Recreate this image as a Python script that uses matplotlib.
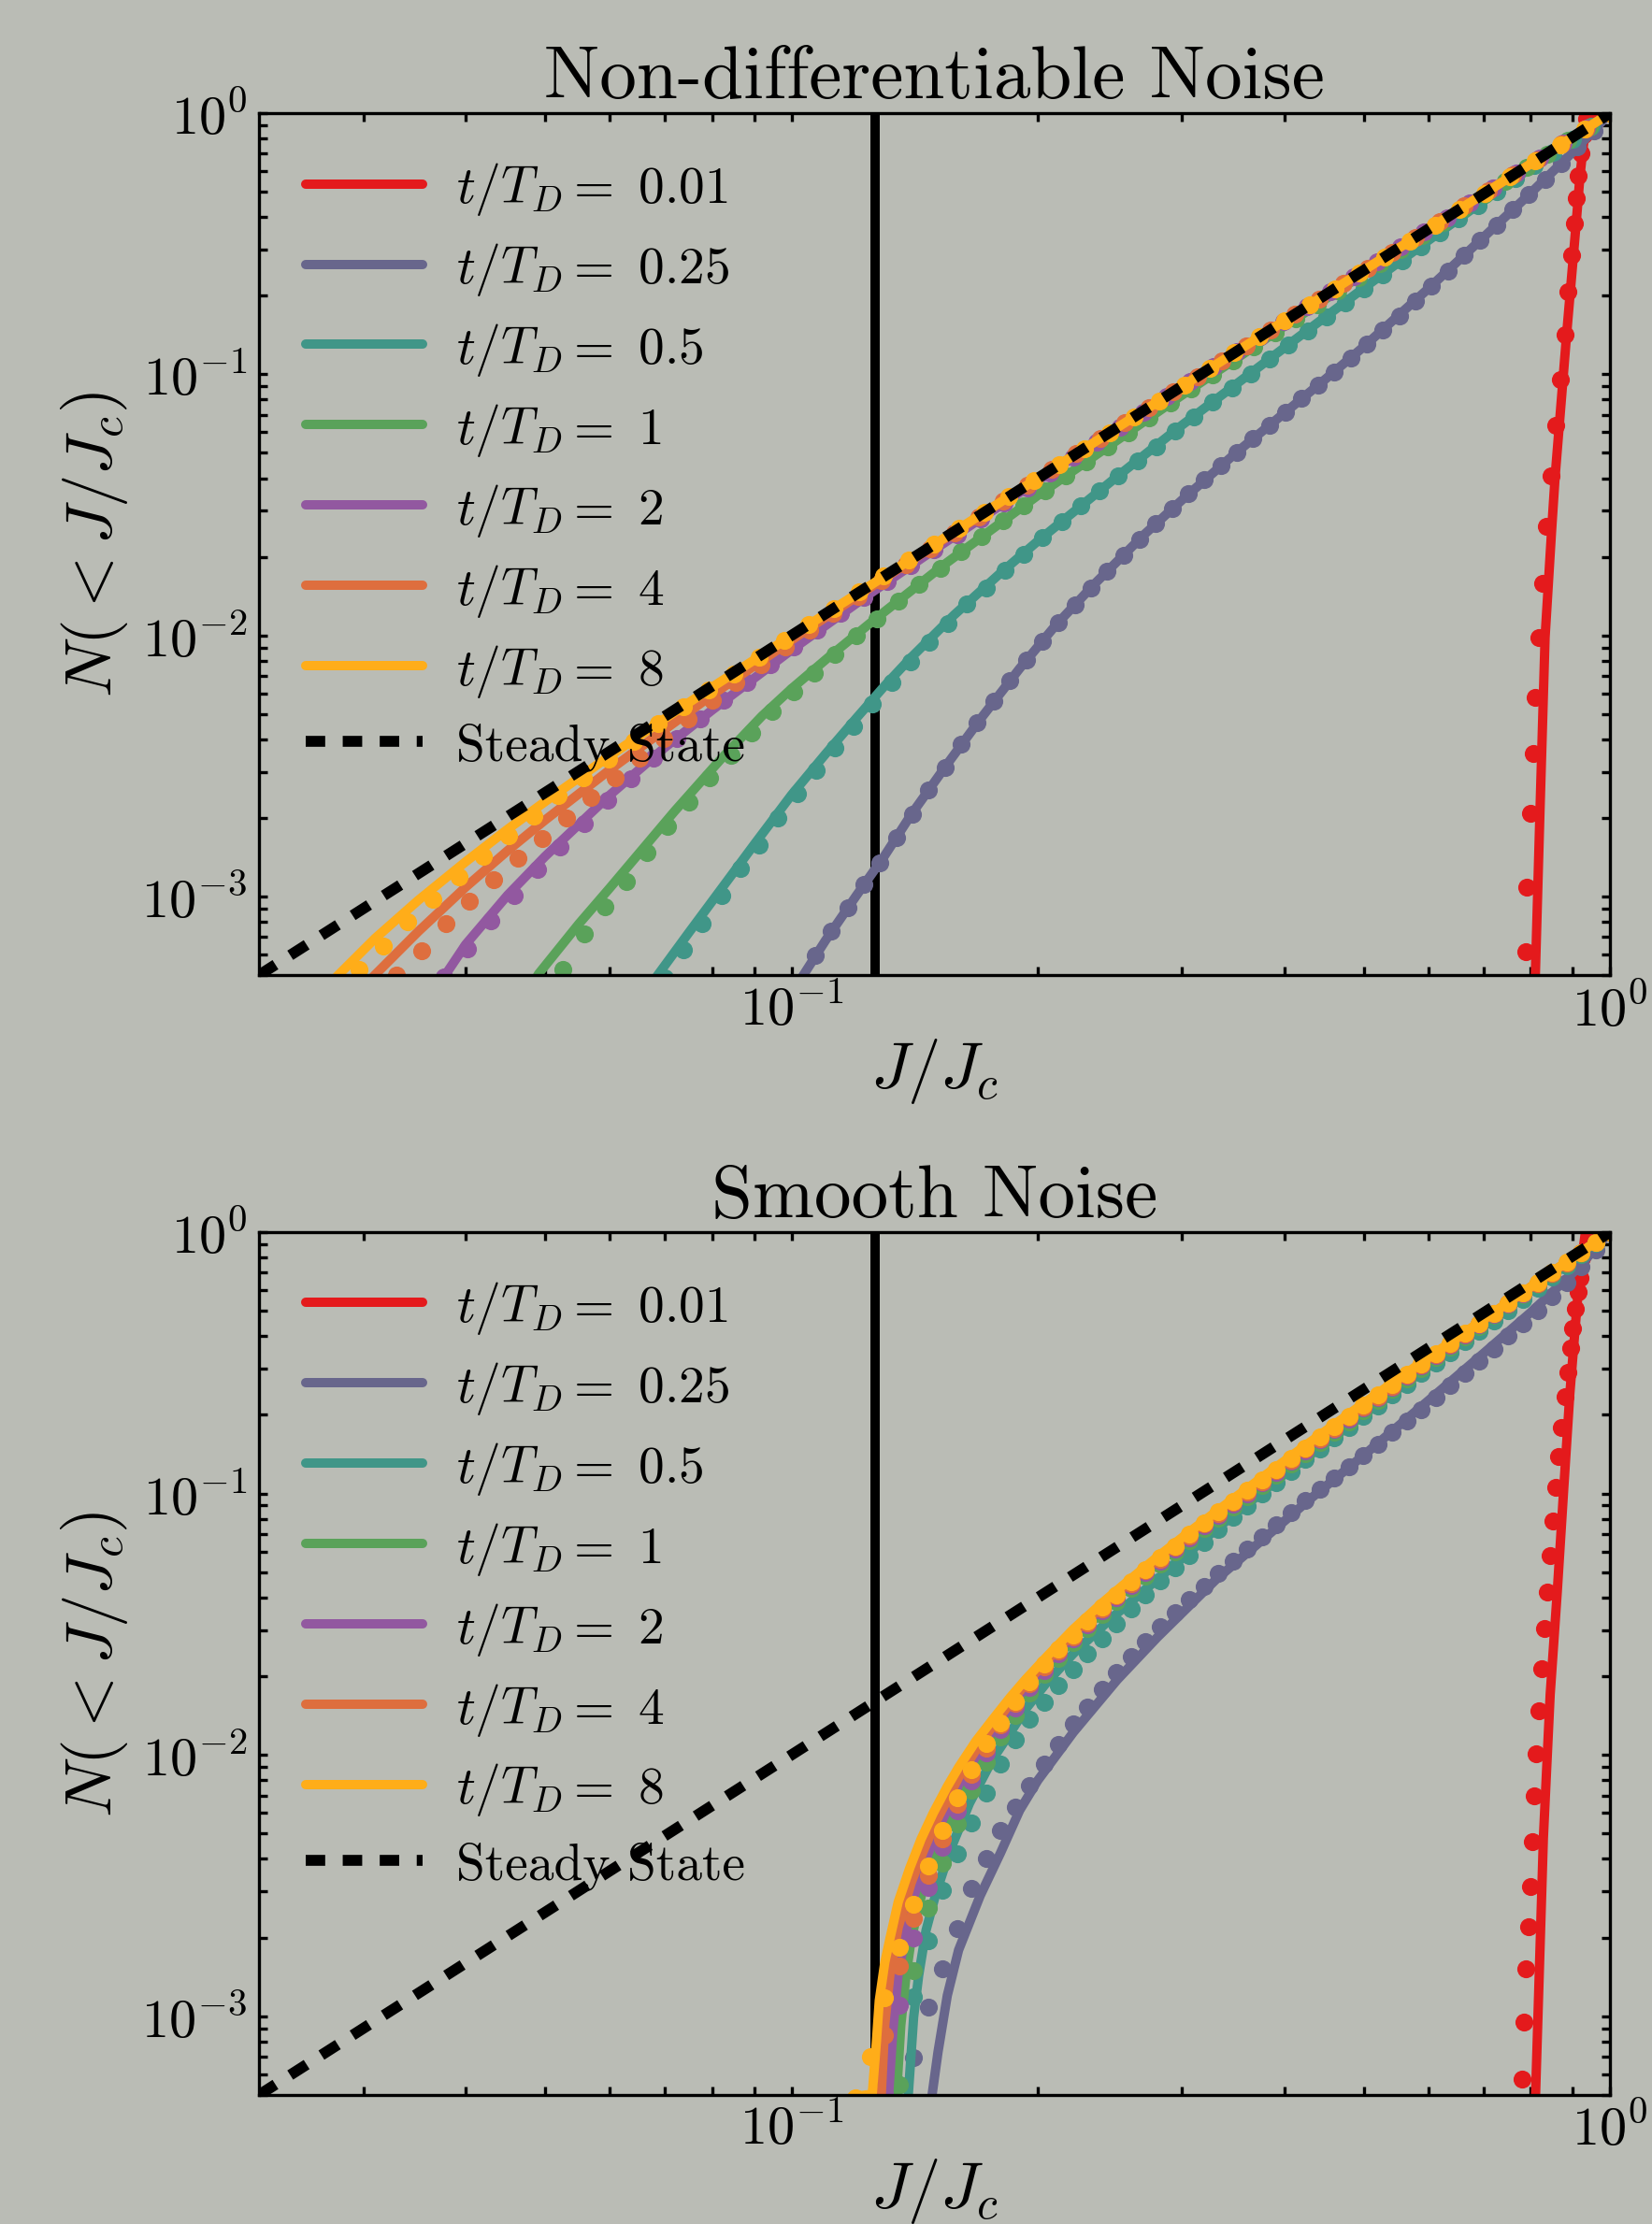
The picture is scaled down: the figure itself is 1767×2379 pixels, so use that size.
import matplotlib
matplotlib.use('Agg')
import matplotlib.pyplot as plt

plt.rcParams['font.family'] = ['cmr10', 'DejaVu Serif']
plt.rcParams['mathtext.fontset'] = 'cm'
plt.rcParams['axes.formatter.use_mathtext'] = True
plt.rcParams['axes.unicode_minus'] = False
plt.rcParams['lines.scale_dashes'] = False

BG = '#babcb5'

times = ['0.01', '0.25', '0.5', '1', '2', '4', '8']
colors = ['#e41a1c', '#68668c', '#409688', '#5aa25a', '#9258a0', '#de6e3e', '#ffad19']

j_lc = 0.1265
x_range = (0.02236, 1.0)
y_range = (5e-4, 1.0)
steady_x = [0.02236, 1.0]
steady_y = [5e-4, 1.0]

# ---------------- top panel: non-differentiable noise ----------------
# theory curves
rough_red_x = [0.806, 0.812, 0.821, 0.833, 0.849, 0.857, 0.876, 0.885, 0.909, 0.919, 0.927, 0.940, 1.0]
rough_red_y = [2.7e-4, 6.14e-4, 2.09e-3, 9.83e-3, 0.0261, 0.0408, 0.0955, 0.142, 0.377, 0.577, 0.74, 1.0, 1.0]
rough_slate_x = [0.099, 0.102, 0.11, 0.12, 0.13, 0.14, 0.155, 0.17, 0.19, 0.21, 0.235, 0.27, 0.3, 0.35,
                 0.4, 0.45, 0.5, 0.6, 0.7, 0.8, 0.9, 1.0]
rough_slate_y = [4.02e-4, 4.68e-4, 6.78e-4, 1.008e-3, 1.437e-3, 2.058e-3, 3.219e-3, 4.769e-3, 7.473e-3,
                 0.01089, 0.01585, 0.02442, 0.03303, 0.05035, 0.07104, 0.09639, 0.1275, 0.2131, 0.3342,
                 0.4947, 0.7088, 1.0]
rough_teal_x = [0.066, 0.0686, 0.075, 0.08, 0.09, 0.1, 0.11, 0.12, 0.13, 0.14, 0.158, 0.18, 0.2, 0.25,
                0.3, 0.4, 0.5, 0.6, 0.7, 0.8, 0.9, 1.0]
rough_teal_y = [4.14e-4, 4.99e-4, 7.31e-4, 9.6e-4, 1.58e-3, 2.45e-3, 3.51e-3, 4.82e-3, 6.42e-3, 8.23e-3,
                0.01198, 0.01733, 0.023, 0.04063, 0.0639, 0.1264, 0.2138, 0.3258, 0.4606, 0.6176,
                0.7979, 1.0]
rough_green_x = [0.047, 0.0491, 0.055, 0.06, 0.072, 0.082, 0.092, 0.1, 0.111, 0.126, 0.153, 0.2, 0.3,
                 0.4, 0.5, 0.7, 1.0]
rough_green_y = [3.98e-4, 5.06e-4, 7.87e-4, 1.08e-3, 2.125e-3, 3.362e-3, 4.909e-3, 6.25e-3, 8.255e-3,
                 0.01143, 0.01849, 0.0344, 0.08325, 0.1528, 0.2425, 0.4851, 1.0]
rough_purple_x = [0.036, 0.0377, 0.04, 0.045, 0.05, 0.06, 0.07, 0.08, 0.1, 0.125, 0.15, 0.2, 0.3, 0.5, 1.0]
rough_purple_y = [4.02e-4, 4.97e-4, 6.56e-4, 1.013e-3, 1.425e-3, 2.45e-3, 3.72e-3, 5.18e-3, 8.8e-3,
                  0.01453, 0.02149, 0.0392, 0.08937, 0.25, 1.0]
rough_orange_x = [0.029, 0.0309, 0.035, 0.04, 0.045, 0.05, 0.06, 0.07, 0.08, 0.1, 0.125, 0.15, 0.2, 0.3, 1.0]
rough_orange_y = [3.78e-4, 4.97e-4, 7.35e-4, 1.088e-3, 1.499e-3, 1.963e-3, 3.06e-3, 4.36e-3, 5.92e-3,
                  9.6e-3, 0.01531, 0.02228, 0.03988, 0.09, 1.0]
rough_yellow_x = [0.0265, 0.0279, 0.031, 0.035, 0.04, 0.045, 0.05, 0.06, 0.07, 0.08, 0.1, 0.15, 0.3, 0.6, 1.0]
rough_yellow_y = [4.07e-4, 4.98e-4, 6.92e-4, 9.68e-4, 1.36e-3, 1.81e-3, 2.31e-3, 3.46e-3, 4.80e-3,
                  6.34e-3, 9.97e-3, 0.0225, 0.09, 0.36, 1.0]

# simulation points
rough_red_dx = [0.921, 0.915, 0.909, 0.904, 0.897, 0.889, 0.880, 0.870, 0.859, 0.848, 0.836, 0.827,
                0.818, 0.811, 0.805, 0.800, 0.792, 0.790, 0.928, 0.936]
rough_red_dy = [0.705, 0.577, 0.472, 0.377, 0.286, 0.207, 0.142, 0.0955, 0.064, 0.0408, 0.0261, 0.0158,
                9.83e-3, 5.81e-3, 3.53e-3, 2.09e-3, 1.09e-3, 6.14e-4, 0.83, 0.95]
rough_slate_dx = [1, .9554, .9128, .8721, .8332, .7960, .7605, .7266, .6942, .6632, .6336, .6053, .5783,
                  .5525, .5279, .5044, .4819, .4604, .4399, .4202, .4015, .3836, .3665, .3501, .3345,
                  .3196, .3053, .2917, .2787, .2663, .2544, .2430, .2322, .2218, .2119, .2025, .1935,
                  .1848, .1766, .1687, .1612, .1540, .1471, .1406, .1343, .1283, .1226, .1171, .1119,
                  .1069, .1021]
rough_slate_dy = [1, .8580, .7415, .6426, .5588, .4879, .4268, .3732, .3262, .2851, .2489, .2181, .1913,
                  .1679, .1477, .1303, .1154, .1023, .0909, .0807, .0717, .0638, .0568, .0504, .0446,
                  .0394, .0348, .03054, .02679, .02339, .02032, .01760, .01520, .01309, .01123, .00951,
                  .00805, .00673, .00561, .00464, .00382, .00313, .00255, .00207, .00168, .00135, .00111,
                  .000906, .000739, .000594, .000469]
rough_teal_dx = [1, .9482, .8991, .8525, .8084, .7665, .7268, .6892, .6535, .6196, .5875, .5571, .5282,
                 .5009, .4749, .4503, .4270, .4049, .3839, .3640, .3452, .3273, .3103, .2943, .2790,
                 .2646, .2509, .2379, .2256, .2139, .2028, .1923, .1823, .1729, .1639, .1554, .1474,
                 .1397, .1325, .1256, .1191, .1130, .1071, .1016, .0963, .0913, .0866, .0821, .0778,
                 .0738, .0700]
rough_teal_dy = [1, .8928, .7963, .7086, .6306, .5611, .4991, .4440, .3950, .3493, .3090, .2731, .2413,
                 .2133, .1884, .1663, .1468, .1295, .1142, .1007, .0887, .0782, .0689, .0606, .0529,
                 .0466, .0409, .03593, .03129, .02722, .02365, .02052, .01779, .01525, .01317, .01112,
                 .00945, .00791, .00659, .00545, .00447, .00370, .00304, .00248, .00200, .00158, .00128,
                 .00101, .000788, .000627, .00049]
rough_green_dx = [1, .9428, .8889, .8380, .7901, .7449, .7023, .6621, .6242, .5885, .5548, .5231, .4932,
                  .4650, .4384, .4133, .3897, .3674, .3464, .3266, .3079, .2903, .2737, .2580, .2433,
                  .2294, .2163, .2039, .1922, .1812, .1709, .1611, .1519, .1432, .1350, .1273, .1200,
                  .1131, .1067, .1006, .0948, .0894, .0843, .0795, .0749, .0706, .0666, .0628, .0592,
                  .0558, .0526]
rough_green_dy = [1, .8871, .7869, .6981, .6192, .5493, .4868, .4314, .3823, .3388, .3002, .2660, .2355,
                  .2085, .1845, .1632, .1443, .1274, .1126, .0994, .0877, .0774, .0682, .0599, .0527,
                  .0463, .0407, .03574, .03141, .02742, .02394, .02089, .01811, .01569, .01349, .01158,
                  .00994, .00845, .00717, .00607, .00512, .00423, .00348, .00284, .00230, .00185, .00147,
                  .00114, .000913, .000718, .000526]
rough_purple_dx = [1, .9365, .8770, .8213, .7692, .7203, .6746, .6318, .5917, .5541, .5189, .4860, .4551,
                   .4262, .3991, .3738, .3501, .3278, .3070, .2875, .2693, .2522, .2362, .2212, .2071,
                   .1940, .1817, .1701, .1593, .1492, .1397, .1309, .1226, .1148, .1075, .1007, .0943,
                   .0883, .0827, .0774, .0725, .0679, .0636, .0596, .0558, .0522, .0489, .0458, .0429,
                   .0402, .0376]
rough_purple_dy = [1, .8770, .7692, .6746, .5917, .5189, .4551, .3991, .3501, .3070, .2693, .2362, .2071,
                   .1817, .1588, .1391, .1220, .1069, .0936, .0820, .0718, .0628, .0550, .0481, .0420,
                   .0367, .03206, .02797, .02435, .02124, .01853, .01608, .01395, .01211, .01044, .00901,
                   .00773, .00661, .00567, .00479, .00404, .00340, .00283, .00234, .00190, .00155, .00127,
                   .00101, .00081, .000628, .000494]
rough_orange_dx = [1, .934, .8724, .8148, .7610, .7108, .6639, .6201, .5792, .5410, .5053, .4719, .4408,
                   .4117, .3845, .3591, .3354, .3133, .2926, .2733, .2553, .2384, .2227, .2080, .1943,
                   .1815, .1695, .1583, .1479, .1381, .1290, .1205, .1125, .1051, .0982, .0917, .0856,
                   .0800, .0747, .0698, .0652, .0609, .0569, .0531, .0496, .0463, .0433, .0404, .0378,
                   .0353, .0329]
rough_orange_dy = [1, .8724, .7610, .6639, .5792, .5053, .4408, .3845, .3354, .2926, .2553, .2227, .1943,
                   .1695, .1479, .1290, .1125, .0982, .0856, .0747, .0652, .0569, .0496, .0433, .0376,
                   .0327, .0284, .0248, .0215, .01868, .01621, .01407, .01215, .01049, .00905, .00773,
                   .00660, .00563, .00480, .00404, .00340, .00286, .00239, .00200, .00167, .00140, .00116,
                   .000962, .000787, .00062, .000501]
rough_yellow_dx = [1, .932, .8686, .8096, .7545, .7032, .6554, .6108, .5693, .5306, .4945, .4609, .4295,
                   .4003, .3731, .3477, .3241, .3020, .2815, .2624, .2445, .2279, .2124, .1980, .1845,
                   .1720, .1603, .1494, .1392, .1297, .1209, .1127, .1050, .0979, .0912, .0850, .0792,
                   .0738, .0688, .0641, .0598, .0557, .0519, .0484, .0451, .0420, .0392, .0365, .0340,
                   .0317, .0296]
rough_yellow_dy = [1, .8686, .7545, .6554, .5693, .4945, .4295, .3731, .3241, .2815, .2445, .2124, .1845,
                   .1603, .1392, .1209, .1050, .0912, .0792, .0688, .0598, .0519, .0451, .0392, .0340,
                   .0296, .0257, .02235, .01941, .01686, .01465, .01272, .01105, .00955, .00826, .00713,
                   .00616, .00533, .00458, .00393, .00337, .00286, .00243, .00204, .00171, .00142, .00119,
                   .000978, .000800, .000646, .000526]

# ---------------- bottom panel: smooth noise ----------------
smooth_red_x = [0.806, 0.811, 0.82, 0.829, 0.845, 0.862, 0.878, 0.893, 0.906, 0.917, 0.933, 1.0]
smooth_red_y = [2.65e-4, 5e-4, 1.56e-3, 4.8e-3, 0.017, 0.042, 0.105, 0.24, 0.42, 0.66, 1.0, 1.0]
smooth_slate_x = [0.147, 0.1486, 0.151, 0.155, 0.16, 0.17, 0.18, 0.19, 0.2, 0.221, 0.25, 0.28, 0.33,
                  0.4, 0.43, 0.5, 0.6, 0.7, 0.8, 0.9, 0.95, 1.0]
smooth_slate_y = [3.24e-4, 5.08e-4, 7.3e-4, 1.201e-3, 1.792e-3, 2.89e-3, 4.212e-3, 6.14e-3, 8.0e-3,
                  0.01221, 0.01938, 0.02822, 0.04683, 0.0784, 0.0952, 0.1400, 0.2268, 0.3430, 0.4928,
                  0.6966, 0.8348, 1.0]
smooth_teal_x = [0.137, 0.1389, 0.141, 0.143, 0.146, 0.15, 0.156, 0.165, 0.176, 0.185, 0.193, 0.205,
                 0.221, 0.2451, 0.28, 0.33, 0.4, 0.5, 0.6, 0.7, 0.8, 0.9, 1.0]
smooth_teal_y = [2.44e-4, 5.02e-4, 9.94e-4, 1.431e-3, 2.132e-3, 2.925e-3, 4.259e-3, 6.534e-3, 9.603e-3,
                 0.01215, 0.0149, 0.01891, 0.02442, 0.03304, 0.04704, 0.07296, 0.1184, 0.2, 0.306,
                 0.4361, 0.5952, 0.7817, 1.0]
smooth_green_x = [0.133, 0.1344, 0.136, 0.138, 0.14, 0.145, 0.15, 0.16, 0.168, 0.176, 0.185, 0.193, 0.205,
                  0.221, 0.24, 0.254, 0.28, 0.306, 0.34, 0.368, 0.43, 0.5, 0.6, 0.7, 0.8, 0.9, 1.0]
smooth_green_y = [2.65e-4, 5.06e-4, 9.25e-4, 1.428e-3, 1.96e-3, 3.154e-3, 4.275e-3, 6.912e-3, 9.032e-3,
                  0.01146, 0.0142, 0.01713, 0.02143, 0.02784, 0.03542, 0.04194, 0.0541, 0.06835, 0.08786,
                  0.1063, 0.1525, 0.2163, 0.3258, 0.4582, 0.6144, 0.7938, 1.0]
smooth_purple_x = [0.13, 0.1314, 0.133, 0.135, 0.14, 0.145, 0.15, 0.16, 0.168, 0.176, 0.185, 0.193, 0.205,
                   0.221, 0.24, 0.254, 0.28, 0.306, 0.34, 0.368, 0.43, 0.5, 0.6, 0.7, 0.8, 0.9, 1.0]
smooth_purple_y = [2.54e-4, 5.01e-4, 8.84e-4, 1.458e-3, 2.646e-3, 3.785e-3, 4.95e-3, 7.68e-3, 9.878e-3,
                   0.01239, 0.01523, 0.01807, 0.02227, 0.02882, 0.03658, 0.0429, 0.05527, 0.06929, 0.08901,
                   0.107, 0.1535, 0.2175, 0.3276, 0.4606, 0.6157, 0.7954, 1.0]
smooth_orange_x = [0.127, 0.1287, 0.13, 0.132, 0.135, 0.14, 0.145, 0.15, 0.16, 0.168, 0.176, 0.185, 0.193,
                   0.205, 0.221, 0.24, 0.254, 0.28, 0.306, 0.34, 0.368, 0.43, 0.5, 0.6, 0.7, 0.8, 0.9, 1.0]
smooth_orange_y = [3.23e-4, 4.97e-4, 9.3e-4, 1.481e-3, 2.187e-3, 3.234e-3, 4.31e-3, 5.513e-3, 8.192e-3,
                   0.01044, 0.01286, 0.01574, 0.01862, 0.0229, 0.0293, 0.03715, 0.04355, 0.05606, 0.07023,
                   0.09017, 0.1083, 0.1553, 0.2188, 0.3283, 0.4606, 0.6157, 0.7954, 1.0]
smooth_yellow_x = [0.1185, 0.1255, 0.127, 0.128, 0.13, 0.132, 0.135, 0.1395, 0.144, 0.149, 0.155, 0.16,
                   0.168, 0.176, 0.185, 0.193, 0.205, 0.221, 0.24, 0.254, 0.28, 0.306, 0.34, 0.368, 0.43,
                   0.5, 0.6, 0.7, 0.8, 0.9, 1.0]
smooth_yellow_y = [4.91e-4, 5.04e-4, 8.06e-4, 1.147e-3, 1.606e-3, 2.004e-3, 2.734e-3, 3.697e-3, 4.769e-3,
                   5.994e-3, 7.568e-3, 8.96e-3, 0.01129, 0.01363, 0.0166, 0.01937, 0.02374, 0.03028,
                   0.0383, 0.04452, 0.05723, 0.07116, 0.09132, 0.1097, 0.1572, 0.2213, 0.3312, 0.4631,
                   0.6176, 0.7979, 1.0]

smooth_red_dx = [0.925, 0.919, 0.913, 0.907, 0.901, 0.895, 0.888, 0.880, 0.872, 0.865, 0.858, 0.851,
                 0.844, 0.838, 0.831, 0.825, 0.819, 0.813, 0.808, 0.803, 0.799, 0.795, 0.790, 0.785, 0.780]
smooth_red_dy = [0.798, 0.670, 0.592, 0.509, 0.428, 0.359, 0.291, 0.235, 0.1786, 0.139, 0.1057, 0.0784,
                 0.0581, 0.042, 0.0304, 0.0214, 0.01472, 0.01012, 6.97e-3, 4.67e-3, 3.13e-3, 2.21e-3,
                 1.52e-3, 9.47e-4, 5.74e-4]
smooth_dx = [1, .96, .9216, .8847, .8493, .8154, .7828, .7514, .7214, .6925, .6648, .6382, .6127, .5882,
             .5647, .5421, .5204, .4996, .4796, .4604, .4420, .4243, .4073, .3911, .3754, .3604, .3460,
             .3321, .3189, .3061, .2939, .2821, .2708, .2600, .2496, .2396, .2300, .2208, .2120, .2035,
             .1954, .1876, .1801, .1729, .1659, .1593, .1529, .1468, .1409, .1353, .1299, .1247, .1197]
smooth_slate_dy = [1, .8525, .7346, .6419, .5663, .5019, .4473, .3998, .3575, .3204, .2873, .2582, .2327,
                   .2100, .1894, .1710, .1544, .1398, .1265, .1145, .1036, .0937, .0843, .0758, .0682,
                   .0613, .0551, .0494, .0442, .0394, .0350, .0310, .0271, .0237, .0206, .0178, .0153,
                   .0131, .0110, .00920, .00763, .00633, .00512, .00403, .00308, .00216, .00152, .00108,
                   .000695]
smooth_teal_dy = [1, .9050, .8196, .7437, .6745, .6116, .5545, .5026, .4580, .4173, .3801, .3462, .3153,
                  .2872, .2615, .2381, .2166, .1972, .1794, .1632, .1485, .1351, .1219, .1101, .0993,
                  .0896, .0808, .0728, .0651, .0581, .0518, .0462, .0411, .0362, .0318, .0278, .0243,
                  .0212, .0184, .0159, .0137, .0114, .00924, .00717, .00551, .00419, .00304, .00194,
                  .00119, .000549]
smooth_green_dy = [1, .9115, .8306, .7570, .6904, .6302, .5759, .5252, .4788, .4364, .3978, .3625, .3304,
                   .3010, .2743, .2498, .2275, .2072, .1886, .1717, .1563, .1423, .1294, .1177, .1071,
                   .0974, .0886, .0805, .0732, .0661, .0596, .0537, .0484, .0433, .0386, .0344, .0304,
                   .0268, .0234, .0203, .0172, .0142, .0117, .00941, .00730, .00546, .00386, .00259,
                   .00149, .000549]
smooth_purple_dy = [1, .9133, .8349, .7624, .6962, .6355, .5808, .5308, .4850, .4427, .4040, .3686, .3364,
                    .3072, .2806, .2557, .2329, .2122, .1932, .1760, .1602, .1459, .1327, .1208, .1099,
                    .1000, .0910, .0827, .0753, .0679, .0613, .0553, .0499, .0446, .0399, .0356, .0315,
                    .0278, .0243, .0211, .0181, .0151, .0125, .01016, .00798, .00609, .00444, .00312,
                    .00199, .00110, .000506]
smooth_orange_dy = [1, .9142, .8357, .7640, .6983, .6382, .5839, .5336, .4876, .4451, .4066, .3711, .3390,
                    .3097, .2829, .2580, .2353, .2147, .1955, .1781, .1622, .1477, .1344, .1223, .1113,
                    .1013, .0922, .0838, .0763, .0689, .0622, .0561, .0506, .0453, .0405, .0362, .0320,
                    .0283, .0249, .0217, .0187, .0157, .0130, .01061, .00840, .00647, .00479, .00345,
                    .00238, .00156, .000844, .000467]
smooth_yellow_dy = [1, .9142, .8366, .7656, .7005, .6409, .5864, .5365, .4902, .4479, .4093, .3739, .3416,
                    .3121, .2851, .2604, .2378, .2172, .1978, .1802, .1641, .1495, .1360, .1238, .1127,
                    .1026, .0934, .0849, .0773, .0698, .0630, .0569, .0513, .0460, .0411, .0367, .0325,
                    .0288, .0254, .0222, .0191, .0160, .0133, .01106, .00881, .00685, .00515, .00377,
                    .00268, .00183, .00118, .000700, .000487]

rough_lines = [(rough_red_x, rough_red_y), (rough_slate_x, rough_slate_y), (rough_teal_x, rough_teal_y),
               (rough_green_x, rough_green_y), (rough_purple_x, rough_purple_y),
               (rough_orange_x, rough_orange_y), (rough_yellow_x, rough_yellow_y)]
rough_dots = [(rough_red_dx, rough_red_dy), (rough_slate_dx, rough_slate_dy), (rough_teal_dx, rough_teal_dy),
              (rough_green_dx, rough_green_dy), (rough_purple_dx, rough_purple_dy),
              (rough_orange_dx, rough_orange_dy), (rough_yellow_dx, rough_yellow_dy)]
smooth_lines = [(smooth_red_x, smooth_red_y), (smooth_slate_x, smooth_slate_y),
                (smooth_teal_x, smooth_teal_y), (smooth_green_x, smooth_green_y),
                (smooth_purple_x, smooth_purple_y), (smooth_orange_x, smooth_orange_y),
                (smooth_yellow_x, smooth_yellow_y)]
smooth_dots = [(smooth_red_dx, smooth_red_dy)]
for dy in [smooth_slate_dy, smooth_teal_dy, smooth_green_dy, smooth_purple_dy, smooth_orange_dy,
           smooth_yellow_dy]:
    smooth_dots.append((smooth_dx[:len(dy)], dy))


def draw_panel(ax, lines, dots, title):
    ax.set_facecolor(BG)
    ax.axvline(j_lc, color='k', lw=2.4, zorder=1)
    for i, t in enumerate(times):
        lx, ly = lines[i]
        dx, dy = dots[i]
        ax.plot(lx, ly, color=colors[i], lw=2.4, solid_capstyle='round',
                label=r'$t/T_D = \ \mathrm{' + t + '}$', zorder=2)
        ax.plot(dx, dy, 'o', color=colors[i], ms=4.6, mec='none', zorder=2)
    ax.plot(steady_x, steady_y, color='k', lw=2.8, dashes=(5, 4.5), label='Steady State', zorder=3)
    ax.set_xscale('log')
    ax.set_yscale('log')
    ax.set_xlim(*x_range)
    ax.set_ylim(*y_range)
    ax.tick_params(which='both', direction='in', top=True, right=True, length=2.2, width=0.8,
                   labelsize=14)
    ax.tick_params(axis='x', which='both', pad=2)
    ax.tick_params(axis='y', which='both', pad=3)
    for s in ax.spines.values():
        s.set_linewidth(0.8)
    ax.set_xlabel(r'$J/J_c$', fontsize=17, labelpad=0)
    ax.set_ylabel(r'$N(<J/J_c)$', fontsize=17, labelpad=3)
    ax.set_title(title, fontsize=19, pad=4)
    ax.legend(loc='upper left', frameon=False, fontsize=13.3, handlelength=2.25, handletextpad=0.65,
              labelspacing=0.45, borderaxespad=0.5)


fig = plt.figure(figsize=(5.89, 7.9333), dpi=300, facecolor=BG)
ax1 = fig.add_axes([0.1568, 0.5613, 0.8178, 0.3874])
ax2 = fig.add_axes([0.1568, 0.0580, 0.8178, 0.3878])
draw_panel(ax1, rough_lines, rough_dots, 'Non-differentiable Noise')
draw_panel(ax2, smooth_lines, smooth_dots, 'Smooth Noise')

fig.savefig('out.png', dpi=300, facecolor=BG)
